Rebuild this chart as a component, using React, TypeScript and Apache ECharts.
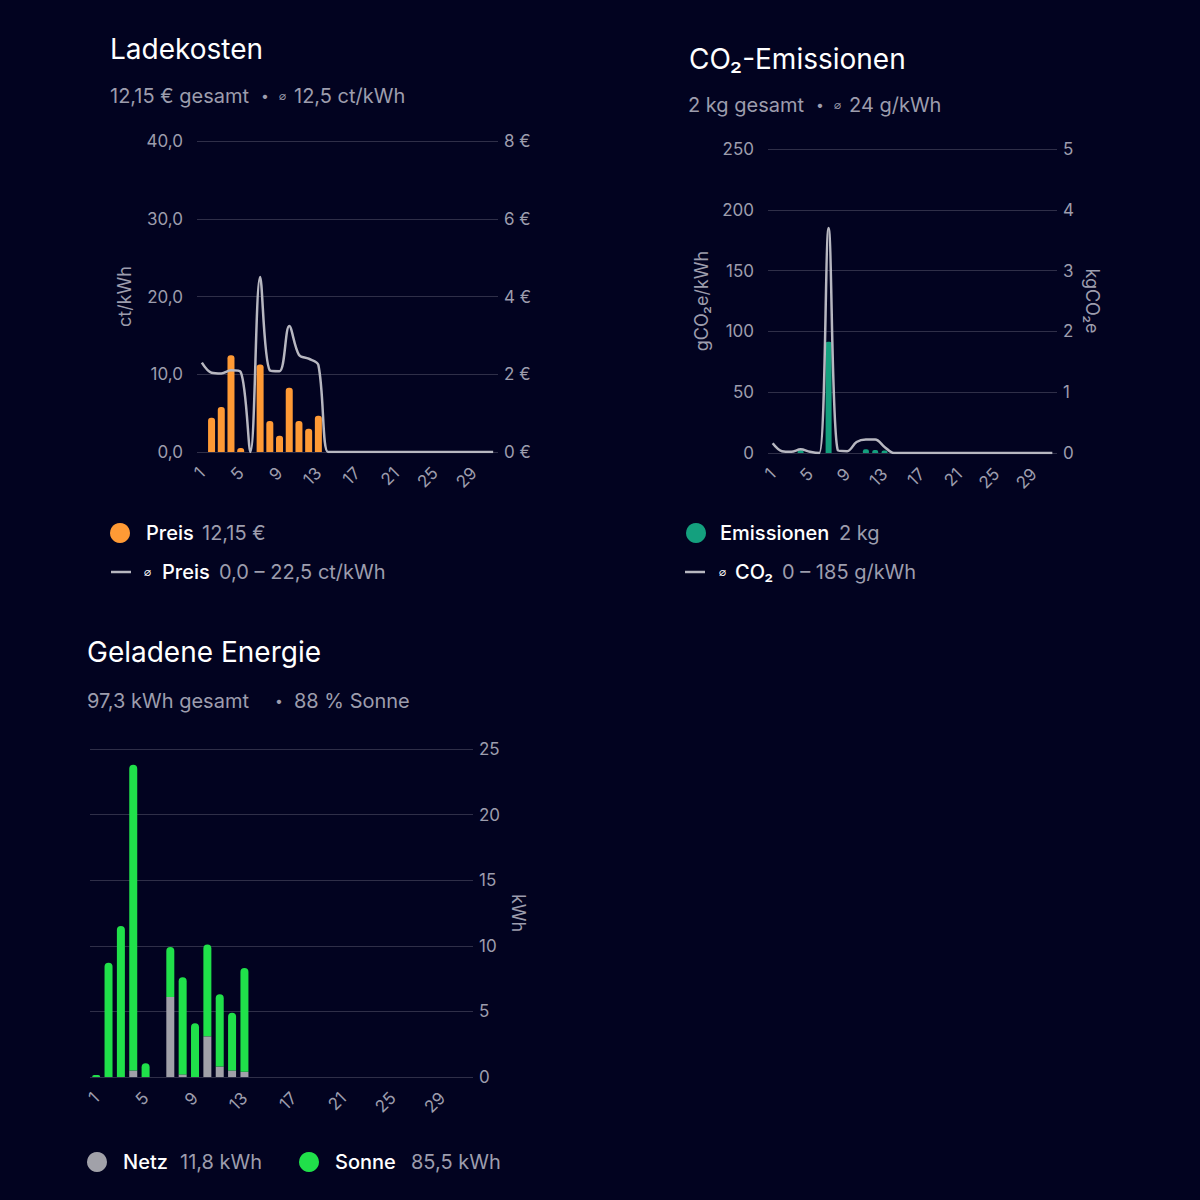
import { useEffect, useRef } from "react";
import * as echarts from "echarts";

// ---------- data ----------
const days = ["1","2","3","4","5","6","7","8","9","10","11","12","13","14","15","16","17","18","19","20","21","22","23","24","25","26","27","28","29","30","31"];

// Ladekosten: cost per day in € (right axis) and average price ct/kWh (left axis)
const costEur = [0, 0.88, 1.16, 2.49, 0.1, 0, 2.25, 0.8, 0.42, 1.65, 0.8, 0.6, 0.93, 0, 0, 0, 0, 0, 0, 0, 0, 0, 0, 0, 0, 0, 0, 0, 0, 0, 0];
const avgPriceCt = [11.5, 10.2, 10.1, 10.5, 10.3, 0, 22.5, 10.5, 10.4, 16.2, 12.5, 12.0, 11.2, 0, 0, 0, 0, 0, 0, 0, 0, 0, 0, 0, 0, 0, 0, 0, 0, 0, 0];

// CO2: emissions per day in kg (right axis) and intensity g/kWh (left axis)
const co2Kg = [0, 0, 0, 0.05, 0, 0, 1.83, 0, 0, 0, 0.06, 0.05, 0.04, 0, 0, 0, 0, 0, 0, 0, 0, 0, 0, 0, 0, 0, 0, 0, 0, 0, 0];
const co2Intensity = [8, 1.5, 1, 3, 1, 0, 185, 2, 1.5, 9, 11, 11, 5, 0, 0, 0, 0, 0, 0, 0, 0, 0, 0, 0, 0, 0, 0, 0, 0, 0, 0];

// Geladene Energie (kWh)
const netzKwh = [0, 0, 0, 0.5, 0, 0, 6.1, 0.2, 0, 3.1, 0.8, 0.5, 0.4, 0, 0, 0, 0, 0, 0, 0, 0, 0, 0, 0, 0, 0, 0, 0, 0, 0, 0];
const sonneKwh = [0.15, 8.7, 11.5, 23.3, 1.05, 0, 3.8, 7.4, 4.1, 7.0, 5.5, 4.4, 7.9, 0, 0, 0, 0, 0, 0, 0, 0, 0, 0, 0, 0, 0, 0, 0, 0, 0, 0];

// ---------- style ----------
const BG = "#020320";
const WHITE = "#ffffff";
const MUTED = "#9d9dad";
const GRID = "#2f2f48";
const FONT = "Inter, 'Noto Sans', sans-serif";
const ORANGE = "#ff9a35";
const TEAL = "#14a07e";
const LINE = "#b7b7c0";
const GREY = "#a1a1a9";
const GREEN = "#20e04a";

function txt(x: number, y: number, text: string, size: number, fill: string, weight: number | string = 400, family: string = FONT) {
  return {
    type: "text",
    x,
    y,
    style: { text, fill, fontSize: size, fontFamily: family, fontWeight: weight, align: "left", verticalAlign: "middle" },
  };
}
function dot(cx: number, cy: number, fill: string) {
  return { type: "circle", shape: { cx, cy, r: 10 }, style: { fill } };
}
function dash(x1: number, x2: number, y: number) {
  return { type: "line", shape: { x1, y1: y, x2, y2: y }, style: { stroke: LINE, lineWidth: 2.5 } };
}
const DIAM = "⌀";
const DFONT = "'DejaVu Sans', sans-serif";

function xAxis(gridIndex: number) {
  return {
    type: "category",
    gridIndex,
    data: days,
    boundaryGap: true,
    axisLine: { show: false },
    axisTick: { show: false },
    splitLine: { show: false },
    axisLabel: { interval: 3, rotate: 45, color: MUTED, fontSize: 17, fontFamily: FONT, margin: 18 },
  };
}

export default function App() {
  const ref = useRef<HTMLDivElement>(null);
  useEffect(() => {
    const chart = echarts.init(ref.current!, null, { renderer: "svg" });
    const axisLabel = { color: MUTED, fontSize: 17, fontFamily: FONT };
    const nameStyle = { color: MUTED, fontSize: 18, fontFamily: FONT };
    const option = {
      animation: false,
      backgroundColor: BG,
      grid: [
        { left: 197, top: 141, width: 301, height: 311 },
        { left: 768, top: 149, width: 289, height: 304 },
        { left: 90, top: 749, width: 383, height: 328 },
      ],
      xAxis: [xAxis(0), xAxis(1), xAxis(2)],
      yAxis: [
        {
          type: "value", gridIndex: 0, position: "left", min: 0, max: 40, interval: 10,
          axisLabel: { ...axisLabel, margin: 14, formatter: (v: number) => v.toFixed(1).replace(".", ",") },
          splitLine: { lineStyle: { color: GRID, width: 1 } },
          axisLine: { show: false }, axisTick: { show: false },
          name: "ct/kWh", nameLocation: "middle", nameGap: 64, nameRotate: 90, nameTextStyle: nameStyle,
        },
        {
          type: "value", gridIndex: 0, position: "right", min: 0, max: 8, interval: 2,
          axisLabel: { ...axisLabel, margin: 6, formatter: (v: number) => `${v} €` },
          splitLine: { show: false }, axisLine: { show: false }, axisTick: { show: false },
        },
        {
          type: "value", gridIndex: 1, position: "left", min: 0, max: 250, interval: 50,
          axisLabel: { ...axisLabel, margin: 14 },
          splitLine: { lineStyle: { color: GRID, width: 1 } },
          axisLine: { show: false }, axisTick: { show: false },
          name: "gCO₂e/kWh", nameLocation: "middle", nameGap: 58, nameRotate: 90, nameTextStyle: nameStyle,
        },
        {
          type: "value", gridIndex: 1, position: "right", min: 0, max: 5, interval: 1,
          axisLabel: { ...axisLabel, margin: 6 },
          splitLine: { show: false }, axisLine: { show: false }, axisTick: { show: false },
          name: "kgCO₂e", nameLocation: "middle", nameGap: 26, nameRotate: -90, nameTextStyle: nameStyle,
        },
        {
          type: "value", gridIndex: 2, position: "right", min: 0, max: 25, interval: 5,
          axisLabel: { ...axisLabel, margin: 6 },
          splitLine: { lineStyle: { color: GRID, width: 1 } },
          axisLine: { show: false }, axisTick: { show: false },
          name: "kWh", nameLocation: "middle", nameGap: 36, nameRotate: -90, nameTextStyle: nameStyle,
        },
      ],
      series: [
        {
          name: "Preis", type: "bar", xAxisIndex: 0, yAxisIndex: 1, data: costEur, barWidth: 7,
          itemStyle: { color: ORANGE, borderRadius: [3, 3, 0, 0] },
        },
        {
          name: "⌀ Preis", type: "line", xAxisIndex: 0, yAxisIndex: 0, data: avgPriceCt, smooth: 0.35,
          showSymbol: false, lineStyle: { color: LINE, width: 2.5 }, itemStyle: { color: LINE },
        },
        {
          name: "Emissionen", type: "bar", xAxisIndex: 1, yAxisIndex: 3, data: co2Kg, barWidth: 6,
          itemStyle: { color: TEAL, borderRadius: [2, 2, 0, 0] },
        },
        {
          name: "⌀ CO₂", type: "line", xAxisIndex: 1, yAxisIndex: 2, data: co2Intensity, smooth: 0.35,
          showSymbol: false, lineStyle: { color: LINE, width: 2.5 }, itemStyle: { color: LINE },
        },
        {
          name: "Netz", type: "bar", xAxisIndex: 2, yAxisIndex: 4, data: netzKwh, stack: "energie", barWidth: 8,
          itemStyle: { color: GREY },
        },
        {
          name: "Sonne", type: "bar", xAxisIndex: 2, yAxisIndex: 4, data: sonneKwh, stack: "energie", barWidth: 8,
          itemStyle: { color: GREEN, borderRadius: [4, 4, 0, 0] },
        },
      ],
      graphic: [
        // Chart 1 header
        txt(110, 49, "Ladekosten", 28, WHITE, 400),
        txt(110, 96, "12,15 € gesamt", 20, MUTED),
        txt(261, 95, "•", 14, MUTED),
        txt(279, 96, DIAM, 12, MUTED, 400, DFONT),
        txt(294, 96, "12,5 ct/kWh", 20, MUTED),
        // Chart 1 legend
        dot(120, 533, ORANGE),
        txt(146, 533, "Preis", 20, WHITE, 500),
        txt(202, 533, "12,15 €", 20, MUTED),
        dash(111, 131, 572),
        txt(144, 572, DIAM, 12, WHITE, 400, DFONT),
        txt(162, 572, "Preis", 20, WHITE, 500),
        txt(219, 572, "0,0 – 22,5 ct/kWh", 20, MUTED),
        // Chart 2 header
        txt(689, 59, "CO₂-Emissionen", 28, WHITE, 400),
        txt(688, 105, "2 kg gesamt", 20, MUTED),
        txt(816, 104, "•", 14, MUTED),
        txt(834, 105, DIAM, 12, MUTED, 400, DFONT),
        txt(849, 105, "24 g/kWh", 20, MUTED),
        // Chart 2 legend
        dot(696, 533, TEAL),
        txt(720, 533, "Emissionen", 20, WHITE, 500),
        txt(839, 533, "2 kg", 20, MUTED),
        dash(685, 705, 572),
        txt(719, 572, DIAM, 12, WHITE, 400, DFONT),
        txt(735, 572, "CO₂", 20, WHITE, 500),
        txt(782, 572, "0 – 185 g/kWh", 20, MUTED),
        // Chart 3 header
        txt(87, 652, "Geladene Energie", 28, WHITE, 400),
        txt(87, 701, "97,3 kWh gesamt", 20, MUTED),
        txt(275, 700, "•", 14, MUTED),
        txt(294, 701, "88 % Sonne", 20, MUTED),
        // Chart 3 legend
        dot(97, 1162, GREY),
        txt(123, 1162, "Netz", 20, WHITE, 500),
        txt(180, 1162, "11,8 kWh", 20, MUTED),
        dot(309, 1162, GREEN),
        txt(335, 1162, "Sonne", 20, WHITE, 500),
        txt(411, 1162, "85,5 kWh", 20, MUTED),
      ],
    };
    chart.setOption(option as any);
    return () => chart.dispose();
  }, []);
  return (
    <div
      ref={ref}
      style={{ position: "absolute", left: 0, top: 0, width: 1200, height: 1200, background: BG }}
    />
  );
}
